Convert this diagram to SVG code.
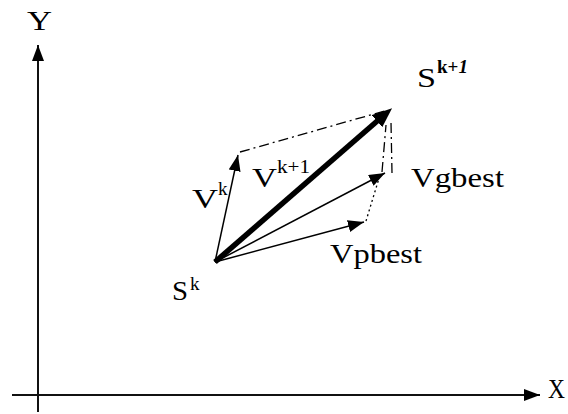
<svg xmlns="http://www.w3.org/2000/svg" width="568" height="414" viewBox="0 0 568 414">
<style>
  text { font-family: "Liberation Serif", "Times New Roman", serif; fill: #000; }
  .lbl { font-size: 28px; }
  .sup { font-size: 19px; }
  .axis { stroke: #111; stroke-width: 2; fill: none; }
  .thin { stroke: #000; stroke-width: 1.5; fill: none; }
  .thick { stroke: #000; stroke-width: 5.5; fill: none; }
  .dd { stroke: #000; stroke-width: 1.3; fill: none; stroke-dasharray: 10 4 2 4; }
  .dot { stroke: #000; stroke-width: 1.3; fill: none; stroke-dasharray: 2 3; }
</style>
<defs>
  <marker id="ah" markerUnits="userSpaceOnUse" markerWidth="16" markerHeight="12" refX="16" refY="6" orient="auto" viewBox="0 0 16 12">
    <path d="M0,0 L16,6 L0,12 z" fill="#000"/>
  </marker>
  <marker id="ahBig" markerUnits="userSpaceOnUse" markerWidth="20" markerHeight="16" refX="8" refY="8" orient="auto" viewBox="0 0 20 16">
    <path d="M0,0 L20,8 L0,16 z" fill="#000"/>
  </marker>
</defs>
<g id="axes">
  <line class="axis" x1="38" y1="412" x2="38" y2="45" marker-end="url(#ah)"/>
  <line class="axis" x1="12" y1="395" x2="540" y2="395" marker-end="url(#ah)"/>
  <text class="lbl" x="27" y="30" textLength="25" lengthAdjust="spacingAndGlyphs">Y</text>
  <text class="lbl" x="548" y="398" textLength="17" lengthAdjust="spacingAndGlyphs">X</text>
</g>
<g id="connectors">
  <line class="dd" x1="240" y1="152" x2="388" y2="110"/>
  <line class="dot" x1="366" y1="221" x2="380" y2="175"/>
  <line class="dd" x1="382" y1="172" x2="386" y2="125"/>
  <line class="dd" x1="392" y1="173" x2="391" y2="122"/>
  <line class="thin" x1="215" y1="262" x2="238" y2="155" marker-end="url(#ah)"/>
  <line class="thin" x1="215" y1="262" x2="385" y2="173" marker-end="url(#ah)"/>
  <line class="thin" x1="215" y1="262" x2="364" y2="222" marker-end="url(#ah)"/>
  <line class="thick" x1="215" y1="262" x2="383" y2="116" marker-end="url(#ahBig)"/>
</g>
<g id="Sk">
  <text class="lbl" x="172" y="300" textLength="16" lengthAdjust="spacingAndGlyphs">S</text>
  <text class="sup" x="190" y="290">k</text>
</g>
<g id="Sk1">
  <text class="lbl" x="417" y="87" textLength="19" lengthAdjust="spacingAndGlyphs">S</text>
  <text class="sup" x="437" y="73" font-weight="bold">k+<tspan font-style="italic">1</tspan></text>
</g>
<g id="Vk">
  <text class="lbl" x="192" y="208" textLength="26" lengthAdjust="spacingAndGlyphs">V</text>
  <text class="sup" x="218" y="195">k</text>
</g>
<g id="Vk1">
  <text class="lbl" x="252" y="187" textLength="25" lengthAdjust="spacingAndGlyphs">V</text>
  <text class="sup" x="277" y="173" textLength="33" lengthAdjust="spacingAndGlyphs">k+1</text>
</g>
<g id="Vgbest">
  <text class="lbl" x="411" y="187" textLength="93" lengthAdjust="spacingAndGlyphs">Vgbest</text>
</g>
<g id="Vpbest">
  <text class="lbl" x="330" y="263" textLength="92" lengthAdjust="spacingAndGlyphs">Vpbest</text>
</g>
</svg>
